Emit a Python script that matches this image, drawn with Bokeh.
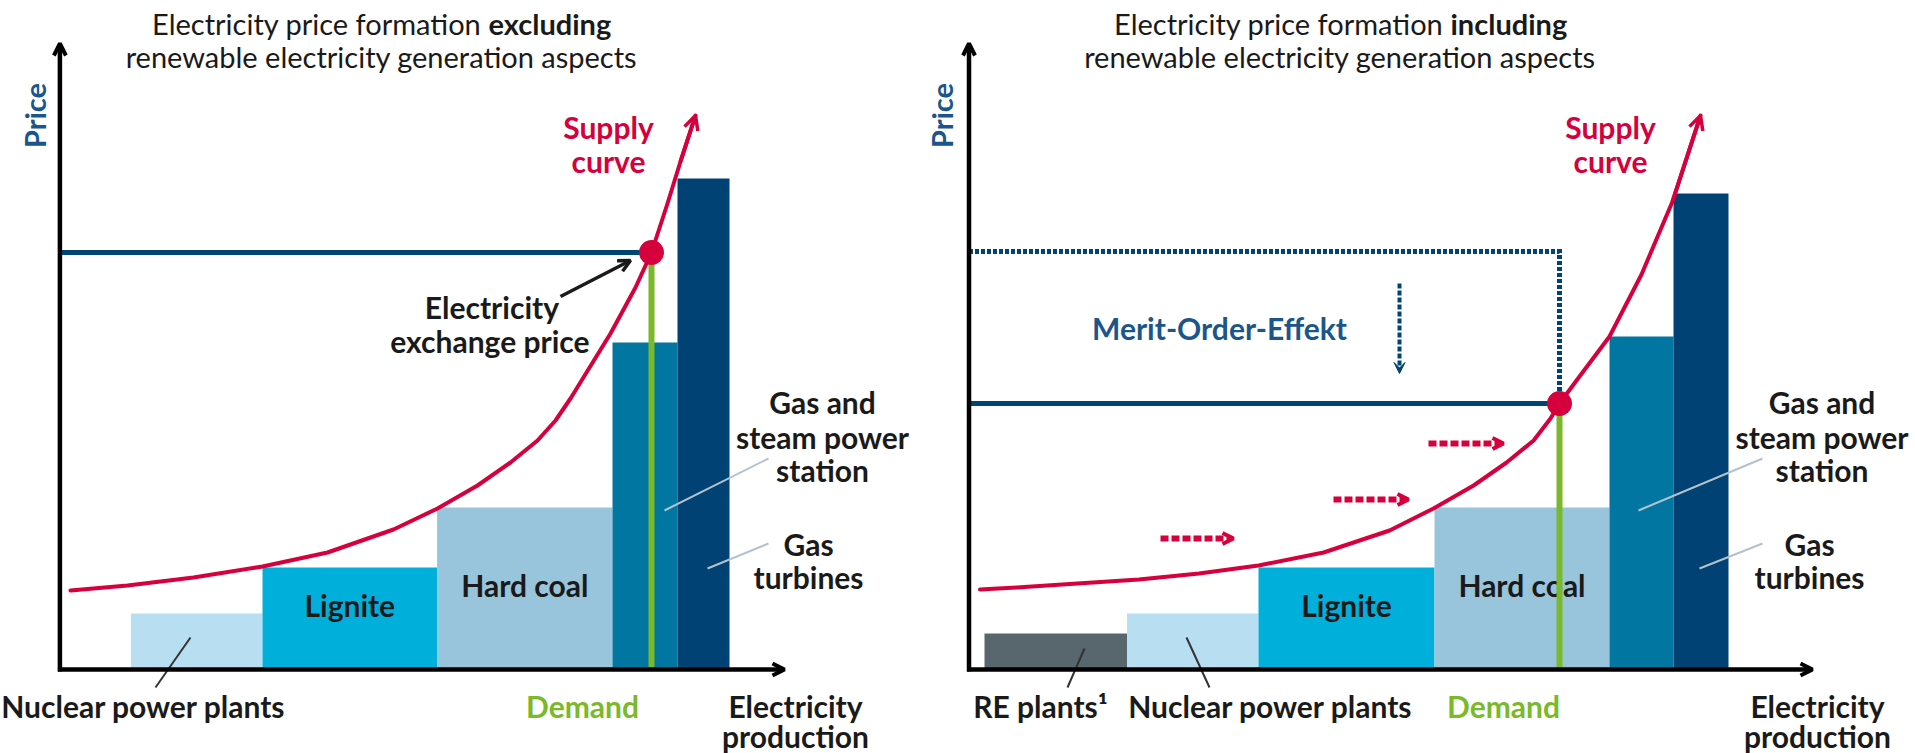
import numpy as np
from bokeh.plotting import figure
from bokeh.layouts import row
from bokeh.models import Range1d, Arrow, OpenHead, VeeHead, ColumnDataSource
from bokeh.core.properties import value
from bokeh.embed import file_html
from bokeh.resources import INLINE

# ---------------- data (schematic units, origin at axis crossing) ----------------
# Left panel: excluding renewables
plants_left = ["Nuclear power plants", "Lignite", "Hard coal",
               "Gas and steam power station", "Gas turbines"]
capacity_left = [131.6, 174.6, 175.4, 65.0, 52.0]
cost_left = [56, 102, 162, 327, 491]
start_left = 71.0
supply_x_left = [10.6, 67.6, 133.6, 202.6, 267.6, 333.6, 377.6, 417.6, 450.6,
                 477.6, 495.6, 510.6, 550.6, 575.6, 591.6, 607.6, 620.6, 635.6]
supply_y_left = [79, 84, 92, 103, 117, 140, 161, 184, 207,
                 229, 249, 271, 336, 382, 417, 466, 508, 554]
demand_left = 591.6
price_left = 417

# Right panel: including renewables
plants_right = ["RE plants¹", "Nuclear power plants", "Lignite", "Hard coal",
                "Gas and steam power station", "Gas turbines"]
capacity_right = [142.5, 131.5, 176.0, 175.0, 64.0, 55.0]
cost_right = [36, 56, 102, 162, 333, 476]
start_right = 15.5
supply_x_right = [11, 47.7, 108.5, 170, 230, 289.5, 354.6, 420.6, 464.5, 504.6,
                  537.6, 564.6, 581.5, 590.5, 607.5, 640.5, 672.5, 703.5, 731.5]
supply_y_right = [80, 82, 86, 90, 96, 104, 117, 139, 161, 184,
                  207, 229, 251, 266, 289, 333, 395, 468, 554]
demand_right = 590.5
price_right = 266
price_before = 418
shift_arrows_x0 = [191.5, 364.5, 459.5]
shift_arrows_x1 = [264.5, 439.5, 534.5]
shift_arrows_y = [131, 170, 226]

colors_left = ["#b8dff1", "#00b0da", "#98c4dc", "#0076a1", "#004273"]
colors_right = ["#58666d"] + colors_left

# ---------------- style ----------------
FONT = "Lato"
RED = "#d5003c"
GREEN = "#7ab929"
NAVY = "#004474"
BLUE_TXT = "#1a568a"
INK = "#1a1a1a"
H = 753
Y0, Y1 = -84, 669
LAB = 30
TIT = 29
DY = 9      # baseline correction for horizontal text
DX = -11    # baseline correction for rotated text


def make_fig(width, xstart):
    p = figure(width=width, height=H, x_range=Range1d(xstart, xstart + width),
               y_range=Range1d(Y0, Y1), output_backend="svg", toolbar_location=None,
               x_axis_type=None, y_axis_type=None, min_border=0,
               outline_line_color=None, background_fill_color="white",
               border_fill_color="white")
    p.grid.visible = False
    return p


def txt(p, x, y, s, size=LAB, color=INK, bold=True, align="center", angle=0.0, xoff=0):
    if angle == 0.0:
        y = y + DY
    else:
        x = x + DX
    p.text(x=[x], y=[y], text=[s], text_font=value(FONT), text_font_size=f"{size}px",
           text_font_style="bold" if bold else "normal", text_align=align,
           text_baseline="alphabetic", text_color=color, angle=angle, x_offset=xoff)


def bars(p, caps, costs, start, colors):
    rights = start + np.cumsum(caps)
    lefts = rights - np.array(caps)
    src = ColumnDataSource(dict(left=lefts, right=rights, top=costs,
                                bottom=[0] * len(caps), color=colors))
    p.quad(left="left", right="right", bottom="bottom", top="top",
           fill_color="color", line_color=None, source=src)
    return lefts, rights


def pointer(p, x0, y0, x1, y1, color):
    p.segment(x0=[x0], y0=[y0], x1=[x1], y1=[y1], line_color=color, line_width=2)


def axes(p, xlen):
    p.add_layout(Arrow(end=OpenHead(size=12, line_width=4, line_color="black"),
                       x_start=0, y_start=-2, x_end=0, y_end=626,
                       line_color="black", line_width=4.5))
    p.add_layout(Arrow(end=OpenHead(size=12, line_width=4, line_color="black"),
                       x_start=-2, y_start=0, x_end=xlen, y_end=0,
                       line_color="black", line_width=4.5))


def supply(p, sx, sy, lx):
    p.line(sx, sy, line_color=RED, line_width=4, line_join="round", line_cap="round")
    p.add_layout(Arrow(end=OpenHead(size=14, line_width=3.5, line_color=RED),
                       x_start=sx[-2], y_start=sy[-2], x_end=sx[-1], y_end=sy[-1],
                       line_color=RED, line_width=4))
    txt(p, lx, 534, "Supply", color=RED)
    txt(p, lx, 500, "curve", color=RED)


# ================= LEFT PANEL =================
p1 = make_fig(920, -59.4)
l1, r1 = bars(p1, capacity_left, cost_left, start_left, colors_left)
txt(p1, (l1[1] + r1[1]) / 2, 56, plants_left[1])
txt(p1, (l1[2] + r1[2]) / 2, 76, plants_left[2])
supply(p1, supply_x_left, supply_y_left, 548.6)
p1.segment(x0=[demand_left], y0=[0], x1=[demand_left], y1=[price_left],
           line_color=GREEN, line_width=6)
p1.segment(x0=[0], y0=[price_left], x1=[demand_left], y1=[price_left],
           line_color=NAVY, line_width=5)
p1.scatter(x=[demand_left], y=[price_left], size=25, marker="circle",
           fill_color=RED, line_color=None)
axes(p1, 724.6)
# titles
txt(p1, 428.6, 637, "Electricity price formation", size=TIT, bold=False, align="right", xoff=-7)
txt(p1, 428.6, 637, "excluding", size=TIT, bold=True, align="left")
txt(p1, 321.6, 604, "renewable electricity generation aspects", size=TIT, bold=False)
txt(p1, -14.4, 554, "Price", size=29, color=BLUE_TXT, angle=np.pi / 2)
# exchange price
txt(p1, 432, 354, "Electricity")
txt(p1, 430, 320, "exchange price")
p1.add_layout(Arrow(end=OpenHead(size=12, line_width=3.5, line_color=INK),
                    x_start=500.6, y_start=373, x_end=570.6, y_end=409,
                    line_color=INK, line_width=3.5))
# right labels
pointer(p1, 604.6, 159, 708.6, 211, "#b3c2cc")
pointer(p1, 647.6, 101, 708.6, 126, "#b3c2cc")
txt(p1, 762.6, 259, "Gas and")
txt(p1, 762.6, 224, "steam power")
txt(p1, 762.6, 191, "station")
txt(p1, 748.6, 117, "Gas")
txt(p1, 748.6, 84, "turbines")
# bottom labels
pointer(p1, 130.6, 32, 95.6, -18, "#333333")
txt(p1, 83.6, -45, plants_left[0])
txt(p1, 522.6, -45, "Demand", color=GREEN)
txt(p1, 735.6, -45, "Electricity")
txt(p1, 735.6, -75, "production")

# ================= RIGHT PANEL =================
p2 = make_fig(995, -48.5)
l2, r2 = bars(p2, capacity_right, cost_right, start_right, colors_right)
txt(p2, (l2[2] + r2[2]) / 2, 56, plants_right[2])
txt(p2, (l2[3] + r2[3]) / 2, 76, plants_right[3])
supply(p2, supply_x_right, supply_y_right, 641.5)
# merit order effect
p2.line(x=[0, demand_right, demand_right], y=[price_before, price_before, price_right],
        line_color=NAVY, line_width=5, line_dash="4 2", line_join="miter")
p2.add_layout(Arrow(end=VeeHead(size=11, fill_color=NAVY, line_color=NAVY),
                    x_start=430.5, y_start=386, x_end=430.5, y_end=296,
                    line_color=NAVY, line_width=4, line_dash="5 2"))
for a0, a1, ay in zip(shift_arrows_x0, shift_arrows_x1, shift_arrows_y):
    p2.add_layout(Arrow(end=OpenHead(size=11, line_width=4, line_color=RED),
                        x_start=a0, y_start=ay, x_end=a1, y_end=ay,
                        line_color=RED, line_width=6, line_dash="8 3"))
txt(p2, 250.5, 333, "Merit-Order-Effekt", color=BLUE_TXT)
p2.segment(x0=[demand_right], y0=[0], x1=[demand_right], y1=[price_right],
           line_color=GREEN, line_width=6)
p2.segment(x0=[0], y0=[price_right], x1=[demand_right], y1=[price_right],
           line_color=NAVY, line_width=5)
p2.scatter(x=[demand_right], y=[price_right], size=25, marker="circle",
           fill_color=RED, line_color=None)
axes(p2, 843.5)
txt(p2, 481.5, 637, "Electricity price formation", size=TIT, bold=False, align="right", xoff=-7)
txt(p2, 481.5, 637, "including", size=TIT, bold=True, align="left")
txt(p2, 371, 604, "renewable electricity generation aspects", size=TIT, bold=False)
txt(p2, -16.5, 554, "Price", size=29, color=BLUE_TXT, angle=np.pi / 2)
pointer(p2, 669.5, 159, 793.5, 211, "#b3c2cc")
pointer(p2, 730.5, 101, 793.5, 126, "#b3c2cc")
txt(p2, 853, 259, "Gas and")
txt(p2, 853, 224, "steam power")
txt(p2, 853, 191, "station")
txt(p2, 840.5, 117, "Gas")
txt(p2, 840.5, 84, "turbines")
pointer(p2, 115.5, 21, 98.5, -18, "#333333")
pointer(p2, 217.5, 32, 240.5, -18, "#333333")
txt(p2, 71.5, -45, plants_right[0])
txt(p2, 301.5, -45, plants_right[1])
txt(p2, 534.5, -45, "Demand", color=GREEN)
txt(p2, 848.5, -45, "Electricity")
txt(p2, 848.5, -75, "production")

layout = row(p1, p2)
open("out.html", "w").write(file_html(layout, INLINE))
